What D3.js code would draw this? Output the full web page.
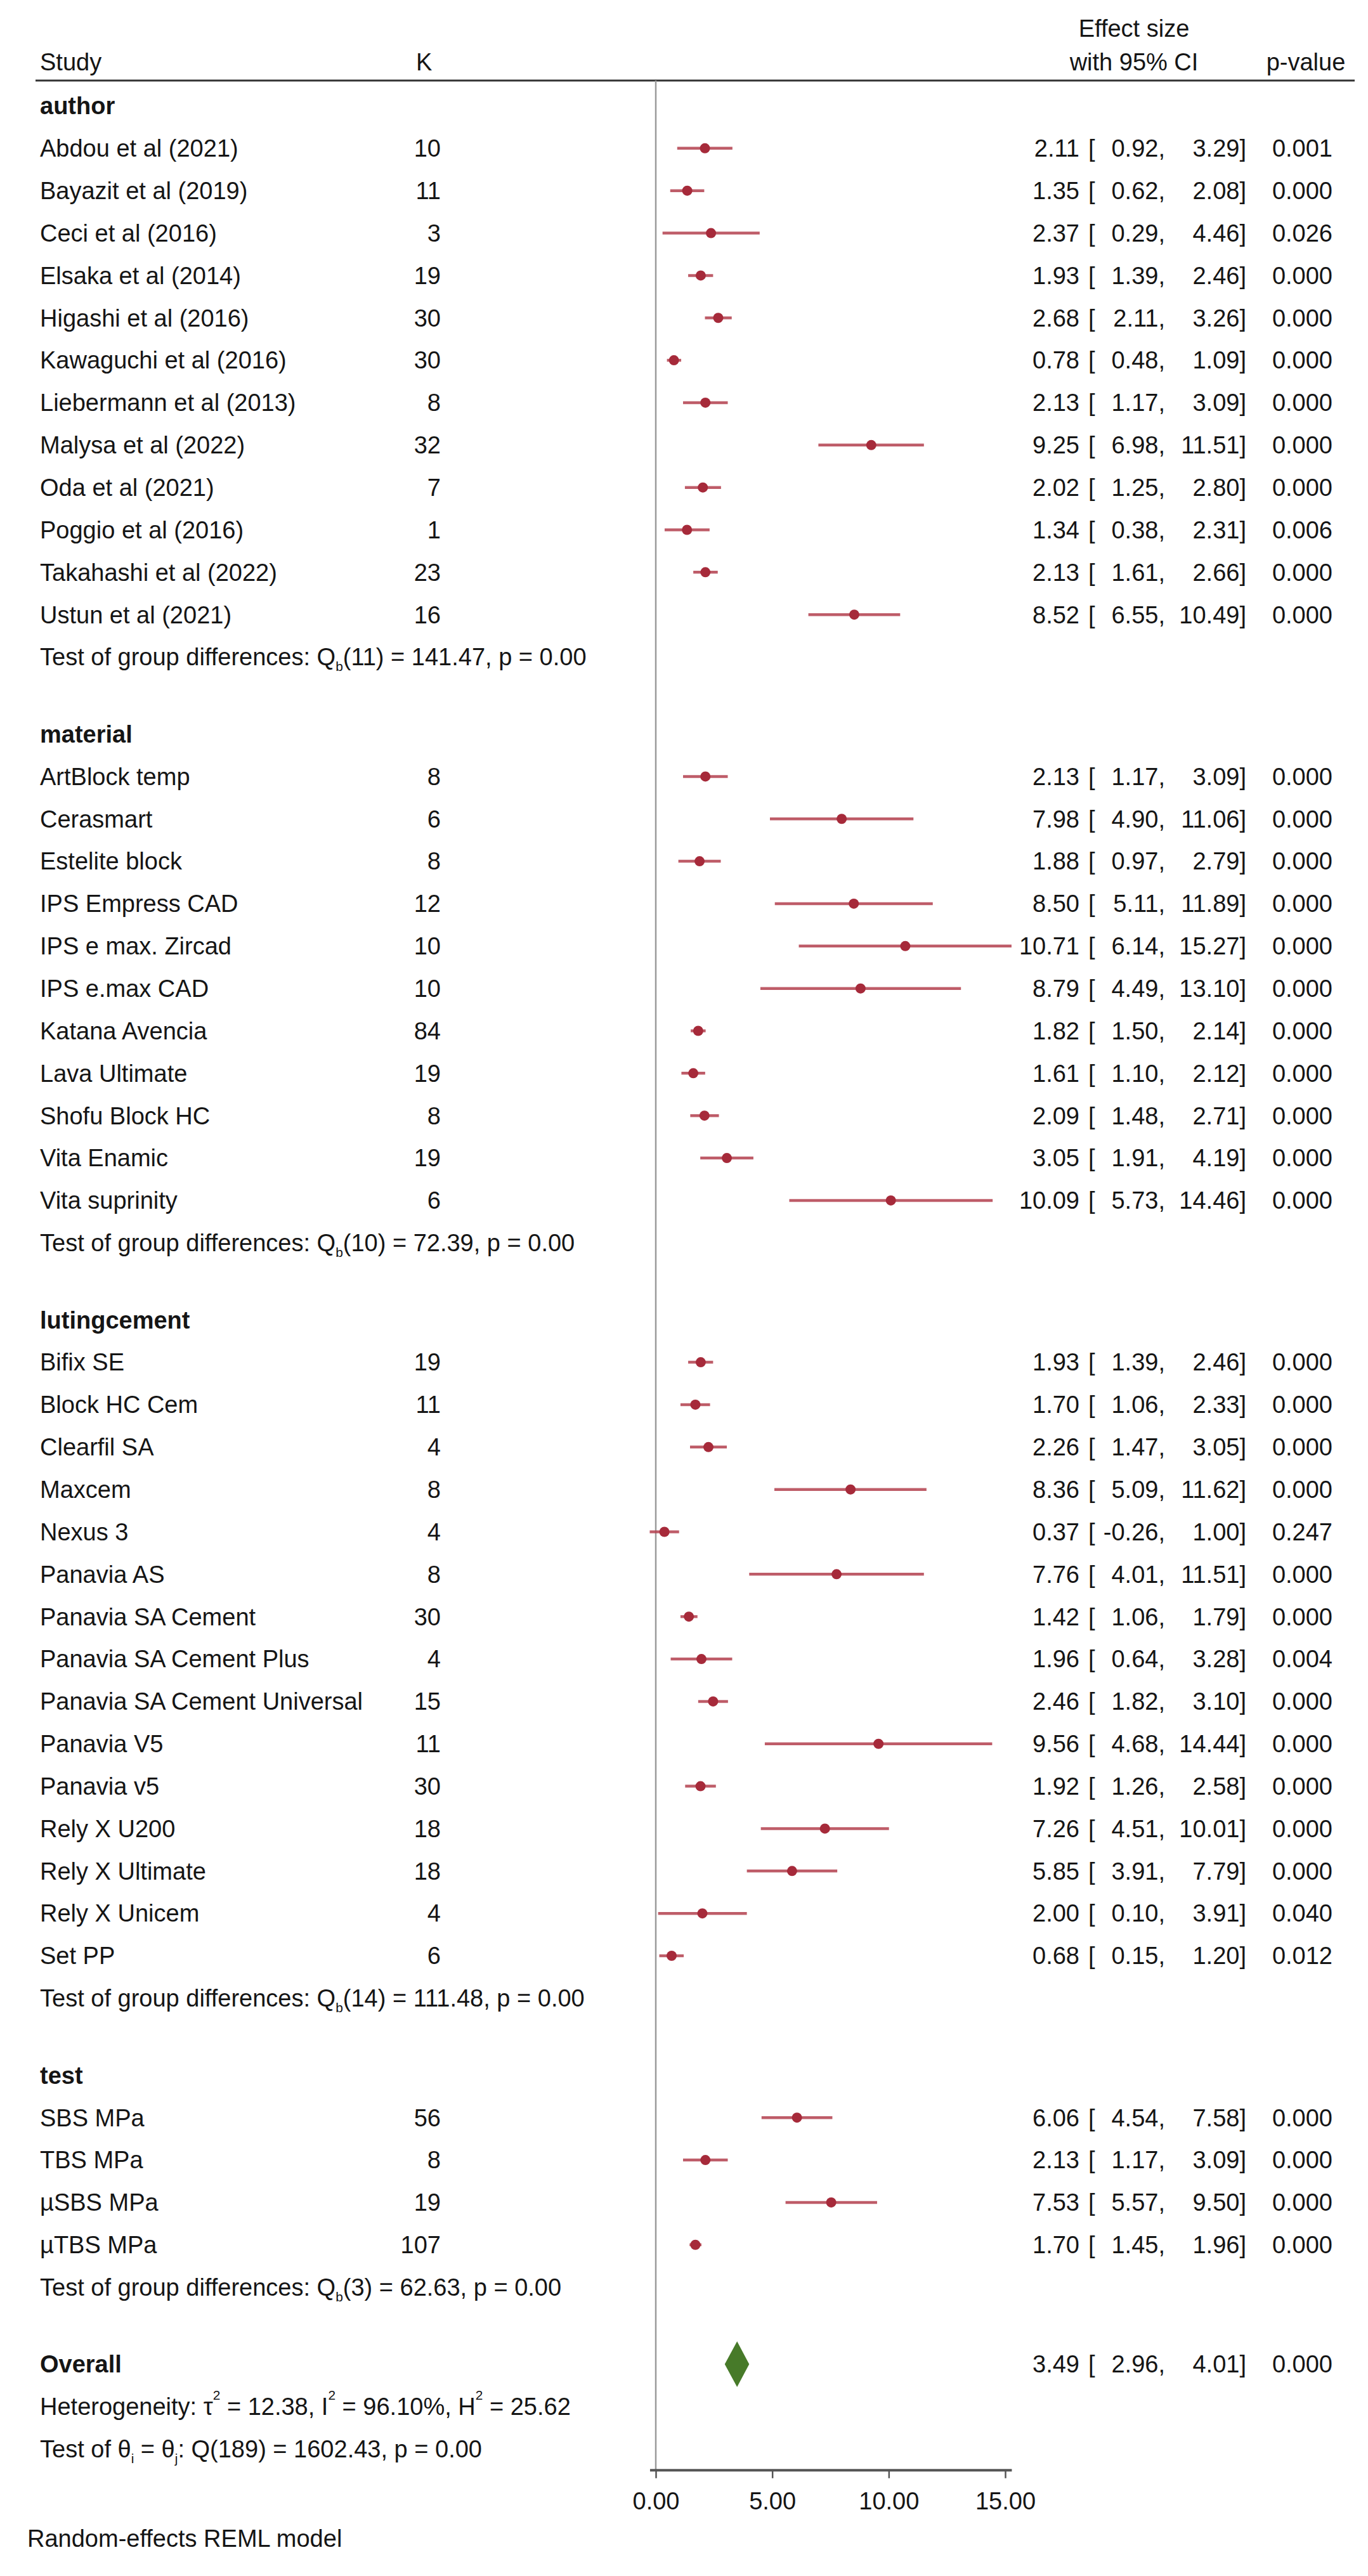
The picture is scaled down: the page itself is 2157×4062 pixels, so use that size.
<!DOCTYPE html>
<html><head><meta charset="utf-8">
<script src="https://cdn.jsdelivr.net/npm/d3@7"></script>
<style>
body{margin:0;background:#fff}
svg{display:block}
text{font-family:Arial,"Liberation Sans",Helvetica,sans-serif;fill:#151515}
</style>
</head><body>
<svg id="chart" width="2157" height="4062"></svg>
<script>
// ---------------- DATA ----------------
const groupNames = ["author", "material", "lutingcement", "test"];

// [study, K, effect size, lower CI, upper CI, p-value]
const authorRows = [
  ["Abdou et al (2021)", 10, 2.11, 0.92, 3.29, 0.001],
  ["Bayazit et al (2019)", 11, 1.35, 0.62, 2.08, 0.000],
  ["Ceci et al (2016)", 3, 2.37, 0.29, 4.46, 0.026],
  ["Elsaka et al (2014)", 19, 1.93, 1.39, 2.46, 0.000],
  ["Higashi et al (2016)", 30, 2.68, 2.11, 3.26, 0.000],
  ["Kawaguchi et al (2016)", 30, 0.78, 0.48, 1.09, 0.000],
  ["Liebermann et al (2013)", 8, 2.13, 1.17, 3.09, 0.000],
  ["Malysa et al (2022)", 32, 9.25, 6.98, 11.51, 0.000],
  ["Oda et al (2021)", 7, 2.02, 1.25, 2.80, 0.000],
  ["Poggio et al (2016)", 1, 1.34, 0.38, 2.31, 0.006],
  ["Takahashi et al (2022)", 23, 2.13, 1.61, 2.66, 0.000],
  ["Ustun et al (2021)", 16, 8.52, 6.55, 10.49, 0.000]
];
const materialRows = [
  ["ArtBlock temp", 8, 2.13, 1.17, 3.09, 0.000],
  ["Cerasmart", 6, 7.98, 4.90, 11.06, 0.000],
  ["Estelite block", 8, 1.88, 0.97, 2.79, 0.000],
  ["IPS Empress CAD", 12, 8.50, 5.11, 11.89, 0.000],
  ["IPS e max. Zircad", 10, 10.71, 6.14, 15.27, 0.000],
  ["IPS e.max CAD", 10, 8.79, 4.49, 13.10, 0.000],
  ["Katana Avencia", 84, 1.82, 1.50, 2.14, 0.000],
  ["Lava Ultimate", 19, 1.61, 1.10, 2.12, 0.000],
  ["Shofu Block HC", 8, 2.09, 1.48, 2.71, 0.000],
  ["Vita Enamic", 19, 3.05, 1.91, 4.19, 0.000],
  ["Vita suprinity", 6, 10.09, 5.73, 14.46, 0.000]
];
const lutingRows = [
  ["Bifix SE", 19, 1.93, 1.39, 2.46, 0.000],
  ["Block HC Cem", 11, 1.70, 1.06, 2.33, 0.000],
  ["Clearfil SA", 4, 2.26, 1.47, 3.05, 0.000],
  ["Maxcem", 8, 8.36, 5.09, 11.62, 0.000],
  ["Nexus 3", 4, 0.37, -0.26, 1.00, 0.247],
  ["Panavia AS", 8, 7.76, 4.01, 11.51, 0.000],
  ["Panavia SA Cement", 30, 1.42, 1.06, 1.79, 0.000],
  ["Panavia SA Cement Plus", 4, 1.96, 0.64, 3.28, 0.004],
  ["Panavia SA Cement Universal", 15, 2.46, 1.82, 3.10, 0.000],
  ["Panavia V5", 11, 9.56, 4.68, 14.44, 0.000],
  ["Panavia v5", 30, 1.92, 1.26, 2.58, 0.000],
  ["Rely X U200", 18, 7.26, 4.51, 10.01, 0.000],
  ["Rely X Ultimate", 18, 5.85, 3.91, 7.79, 0.000],
  ["Rely X Unicem", 4, 2.00, 0.10, 3.91, 0.040],
  ["Set PP", 6, 0.68, 0.15, 1.20, 0.012]
];
const testRows = [
  ["SBS MPa", 56, 6.06, 4.54, 7.58, 0.000],
  ["TBS MPa", 8, 2.13, 1.17, 3.09, 0.000],
  ["\u00b5SBS MPa", 19, 7.53, 5.57, 9.50, 0.000],
  ["\u00b5TBS MPa", 107, 1.70, 1.45, 1.96, 0.000]
];
// Test of group differences: Qb(df) = Q, p
const groupQdf = [11, 10, 14, 3];
const groupQ = [141.47, 72.39, 111.48, 62.63];
const groupQp = [0.00, 0.00, 0.00, 0.00];

// Overall: [es, lo, hi, p]
const overall = [3.49, 2.96, 4.01, 0.000];
const heterogeneity = { tau2: 12.38, I2: 96.10, H2: 25.62 };
const homogeneity = { df: 189, Q: 1602.43, p: 0.00 };

const axisTicks = [0, 5, 10, 15];
const headerLabels = { study: "Study", k: "K", es1: "Effect size", es2: "with 95% CI", p: "p-value" };
const noteText = "Random-effects REML model";

// ---------------- LAYOUT ----------------
const W = 2157, H = 4062;
const FS = 38;
const C = {
  study: 63, kEnd: 695, kHead: 656,
  esEnd: 1702, brk: 1716, loEnd: 1837, hiEnd: 1965, pEnd: 2101,
  esHead: 1788, pHead: 2059, lineL: 56, lineR: 2136
};
const MARK = "#a62a3a", CI_COL = "#b3404d", DIAMOND = "#477a29";

const svg = d3.select("#chart");
svg.append("rect").attr("width", W).attr("height", H).attr("fill", "#fff");

const groupsData = [authorRows, materialRows, lutingRows, testRows];
const allCI = groupsData.flat().flatMap(r => [r[3], r[4]]);

const x = d3.scaleLinear().domain([0, 15]).range([1034, 1585]);

const ROW = 66.85, GAP = 121.5;
const y = d3.scaleLinear().domain([0, 1]).range([167, 167 + ROW]);
const gapSlots = GAP / ROW;

let slot = 0;
const rows = [];
groupNames.forEach((g, gi) => {
  rows.push({ type: "head", label: g, slot });
  slot += 1;
  groupsData[gi].forEach(d => { rows.push({ type: "study", d, slot }); slot += 1; });
  rows.push({ type: "test", gi, slot });
  slot += gapSlots;
});
const overallSlot = slot;
const hetSlot = slot + 1, homSlot = slot + 2;

const loc = d3.formatLocale({ decimal: ".", thousands: ",", grouping: [3], currency: ["", ""], minus: "-" });
const f2 = loc.format(".2f"), f3 = loc.format(".3f");
const yAxis = y(homSlot) + 33;
const yTop = 127;

// header
const hdr = svg.append("g");
hdr.append("text").attr("x", C.study).attr("y", 98).attr("dy", "0.35em").attr("font-size", FS).text(headerLabels.study);
hdr.append("text").attr("x", C.kHead).attr("y", 98).attr("dy", "0.35em").attr("font-size", FS).text(headerLabels.k);
hdr.append("text").attr("x", C.esHead).attr("y", 45).attr("dy", "0.35em").attr("font-size", FS).attr("text-anchor", "middle").text(headerLabels.es1);
hdr.append("text").attr("x", C.esHead).attr("y", 98).attr("dy", "0.35em").attr("font-size", FS).attr("text-anchor", "middle").text(headerLabels.es2);
hdr.append("text").attr("x", C.pHead).attr("y", 98).attr("dy", "0.35em").attr("font-size", FS).attr("text-anchor", "middle").text(headerLabels.p);
hdr.append("line").attr("x1", C.lineL).attr("x2", C.lineR).attr("y1", yTop).attr("y2", yTop)
  .attr("stroke", "#333").attr("stroke-width", 3);

// zero line
svg.append("line").attr("x1", x(0)).attr("x2", x(0)).attr("y1", yTop).attr("y2", yAxis)
  .attr("stroke", "#9a9a9a").attr("stroke-width", 2.5);

// rich text helper
function rich(sel, xPos, yPos, parts) {
  const t = sel.append("text").attr("x", xPos).attr("y", yPos).attr("dy", "0.35em").attr("font-size", FS);
  let shift = 0;
  parts.forEach(p => {
    const ts = t.append("tspan");
    let target = 0;
    if (p.sub) { target = 9; ts.attr("font-size", FS * 0.55); }
    else if (p.sup) { target = -24; ts.attr("font-size", FS * 0.55); }
    if (target !== shift) { ts.attr("dy", target - shift); shift = target; }
    ts.text(p.t);
  });
  return t;
}

const body = svg.append("g");
rows.forEach(r => {
  const yy = y(r.slot);
  if (r.type === "head") {
    body.append("text").attr("x", C.study).attr("y", yy).attr("dy", "0.35em")
      .attr("font-size", FS).attr("font-weight", "bold").text(r.label);
  } else if (r.type === "study") {
    const [name, k, es, lo, hi, p] = r.d;
    body.append("text").attr("x", C.study).attr("y", yy).attr("dy", "0.35em").attr("font-size", FS).text(name);
    body.append("text").attr("x", C.kEnd).attr("y", yy).attr("dy", "0.35em").attr("font-size", FS).attr("text-anchor", "end").text(k);
    body.append("text").attr("x", C.esEnd).attr("y", yy).attr("dy", "0.35em").attr("font-size", FS).attr("text-anchor", "end").text(f2(es));
    body.append("text").attr("x", C.brk).attr("y", yy).attr("dy", "0.35em").attr("font-size", FS).text("[");
    body.append("text").attr("x", C.loEnd).attr("y", yy).attr("dy", "0.35em").attr("font-size", FS).attr("text-anchor", "end").text(f2(lo) + ",");
    body.append("text").attr("x", C.hiEnd).attr("y", yy).attr("dy", "0.35em").attr("font-size", FS).attr("text-anchor", "end").text(f2(hi) + "]");
    body.append("text").attr("x", C.pEnd).attr("y", yy).attr("dy", "0.35em").attr("font-size", FS).attr("text-anchor", "end").text(f3(p));
    body.append("line").attr("x1", x(lo)).attr("x2", x(hi)).attr("y1", yy).attr("y2", yy)
      .attr("stroke", CI_COL).attr("stroke-width", 4.5).attr("stroke-opacity", 0.85);
    body.append("circle").attr("cx", x(es)).attr("cy", yy).attr("r", 8).attr("fill", MARK);
  } else if (r.type === "test") {
    const gi = r.gi;
    rich(body, C.study, yy, [
      { t: "Test of group differences: Q" }, { t: "b", sub: true },
      { t: "(" + groupQdf[gi] + ") = " + f2(groupQ[gi]) + ", p = " + f2(groupQp[gi]) }
    ]);
  }
});

// overall
const yo = y(overallSlot);
body.append("text").attr("x", C.study).attr("y", yo).attr("dy", "0.35em").attr("font-size", FS).attr("font-weight", "bold").text("Overall");
body.append("path")
  .attr("d", `M${x(overall[1])},${yo} L${x(overall[0])},${yo - 36} L${x(overall[2])},${yo} L${x(overall[0])},${yo + 36} Z`)
  .attr("fill", DIAMOND);
body.append("text").attr("x", C.esEnd).attr("y", yo).attr("dy", "0.35em").attr("font-size", FS).attr("text-anchor", "end").text(f2(overall[0]));
body.append("text").attr("x", C.brk).attr("y", yo).attr("dy", "0.35em").attr("font-size", FS).text("[");
body.append("text").attr("x", C.loEnd).attr("y", yo).attr("dy", "0.35em").attr("font-size", FS).attr("text-anchor", "end").text(f2(overall[1]) + ",");
body.append("text").attr("x", C.hiEnd).attr("y", yo).attr("dy", "0.35em").attr("font-size", FS).attr("text-anchor", "end").text(f2(overall[2]) + "]");
body.append("text").attr("x", C.pEnd).attr("y", yo).attr("dy", "0.35em").attr("font-size", FS).attr("text-anchor", "end").text(f3(overall[3]));

rich(body, C.study, y(hetSlot), [
  { t: "Heterogeneity: \u03c4" }, { t: "2", sup: true },
  { t: " = " + f2(heterogeneity.tau2) + ", I" }, { t: "2", sup: true },
  { t: " = " + f2(heterogeneity.I2) + "%, H" }, { t: "2", sup: true },
  { t: " = " + f2(heterogeneity.H2) }
]);
rich(body, C.study, y(homSlot), [
  { t: "Test of \u03b8" }, { t: "i", sub: true }, { t: " = \u03b8" }, { t: "j", sub: true },
  { t: ": Q(" + homogeneity.df + ") = " + f2(homogeneity.Q) + ", p = " + f2(homogeneity.p) }
]);

// axis
const ext = d3.extent(allCI);
const xAxisScale = x.copy().domain(ext).range(ext.map(x));
const ax = svg.append("g").attr("transform", `translate(0,${yAxis})`)
  .call(d3.axisBottom(xAxisScale).tickValues(axisTicks).tickFormat(f2).tickSize(13).tickSizeOuter(0).tickPadding(22));
ax.select(".domain").attr("stroke", "#555").attr("stroke-width", 4);
ax.selectAll(".tick line").attr("stroke", "#555").attr("stroke-width", 2.5);
ax.selectAll(".tick text").attr("font-size", FS).attr("font-family", "Arial, 'Liberation Sans', sans-serif").attr("fill", "#151515");

svg.append("text").attr("x", 43).attr("y", 4003).attr("dy", "0.35em").attr("font-size", FS).text(noteText);
</script>
</body></html>
